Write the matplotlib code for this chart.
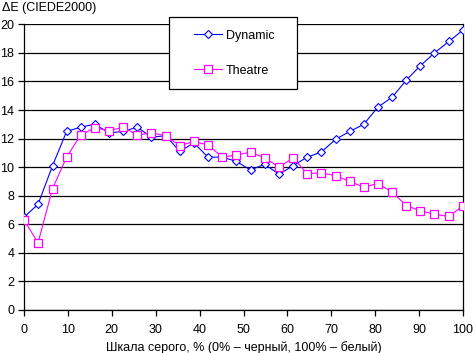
import matplotlib
matplotlib.use("Agg")
import matplotlib.pyplot as plt
from matplotlib.patches import Rectangle

plt.rcParams['font.family'] = ['Liberation Sans', 'DejaVu Sans']

# уровни серого, % (32 точки)
gray = [0, 3.2, 6.5, 9.7, 12.9, 16.1, 19.4, 22.6, 25.8, 29.0, 32.3, 35.5,
        38.7, 41.9, 45.2, 48.4, 51.6, 54.8, 58.1, 61.3, 64.5, 67.7, 71.0,
        74.2, 77.4, 80.6, 83.9, 87.1, 90.3, 93.5, 96.8, 100]

dynamic = [6.5, 7.4, 10.1, 12.5, 12.8, 13.0, 12.4, 12.5, 12.8, 12.1, 12.2,
           11.1, 11.7, 10.7, 10.7, 10.4, 9.8, 10.2, 9.5, 10.1, 10.7, 11.05,
           11.95, 12.5, 13.0, 14.2, 14.9, 16.1, 17.1, 18.0, 18.8, 19.6]

theatre = [6.3, 4.7, 8.5, 10.7, 12.25, 12.75, 12.55, 12.8, 12.25, 12.4, 12.2,
           11.5, 11.8, 11.55, 10.7, 10.85, 11.05, 10.65, 10.0, 10.65, 9.55,
           9.6, 9.4, 9.0, 8.6, 8.85, 8.25, 7.3, 6.95, 6.7, 6.55, 7.3]

yticks = list(range(0, 21, 2))
xticks = list(range(0, 101, 10))

W, H = 473, 353
fig = plt.figure(figsize=(W / 100, H / 100), dpi=100)
ax = fig.add_axes([24 / W, 1 - 310 / H, 439 / W, 285.7 / H])

l1, = ax.plot(gray, dynamic, color='#0000FF', lw=0.8, marker='D', ms=4.2,
              mfc='white', mec='#0000FF', mew=0.8, label='Dynamic', zorder=3)
l2, = ax.plot(gray, theatre, color='#FF00FF', lw=0.8, marker='s', ms=6,
              mfc='white', mec='#FF00FF', mew=0.9, label='Theatre', zorder=4)

ax.set_xlim(0, 100)
ax.set_ylim(0, 20)
ax.set_xticks(xticks)
ax.set_yticks(yticks)
ax.grid(axis='y', color='black', lw=0.9)
ax.set_axisbelow(True)
for s in ax.spines.values():
    s.set_color('black')
    s.set_linewidth(0.9)
ax.spines['top'].set_visible(False)
ax.tick_params(direction='out', length=4, width=0.9, labelsize=9, pad=3)
ax.tick_params(axis='x', pad=6)

fig.text(2 / W, 1 - 8 / H, 'ΔE (CIEDE2000)', fontsize=9, va='center', ha='left')
ax.set_xlabel('Шкала серого, % (0% – черный, 100% – белый)', fontsize=9, labelpad=4)

# рамка легенды
box = Rectangle((169 / W, 1 - 89 / H), 128 / W, 72 / H, transform=fig.transFigure,
                facecolor='white', edgecolor='black', lw=0.9, zorder=5)
fig.add_artist(box)
leg = fig.legend(handles=[l1, l2], loc='upper left',
                 bbox_to_anchor=(194 / W, 1 - 29.5 / H),
                 fontsize=9, frameon=False, borderpad=0, labelspacing=1.85,
                 handlelength=2.25, borderaxespad=0, handletextpad=0.3)
leg.set_zorder(6)

fig.savefig('out.png', dpi=100)
